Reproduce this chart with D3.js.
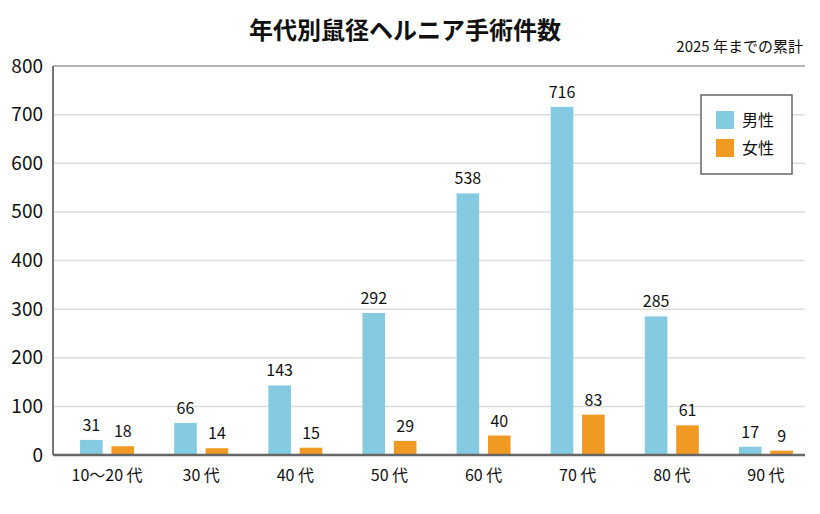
<!DOCTYPE html>
<html><head><meta charset="utf-8">
<script src="https://cdn.jsdelivr.net/npm/d3@7"></script>
<style>
body{margin:0;background:#fff;}
text{font-family:"Noto Sans CJK JP","Noto Sans",sans-serif;}
</style></head>
<body><svg id="c" width="820" height="514"></svg>
<script>
const categories = ["10〜20 代","30 代","40 代","50 代","60 代","70 代","80 代","90 代"];
const male = [31,66,143,292,538,716,285,17];
const female = [18,14,15,29,40,83,61,9];
const seriesNames = ["男性","女性"];
const yTicks = [0,100,200,300,400,500,600,700,800];
const title = "年代別鼠径ヘルニア手術件数";
const subtitle = "2025 年までの累計";

const colors = ["#84CBE1","#F09A24"];
const svg = d3.select("#c");
const plotL = 53, plotR = 805, plotT = 66, plotB = 455;

const y = d3.scaleLinear().domain([0,800]).range([plotB,plotT]);
const x = d3.scaleBand().domain(categories).range([60,813]);
const inner = d3.scaleBand().domain(seriesNames).range([-27,27]).paddingInner(0.28);

// gridlines
svg.append("g").selectAll("line").data(yTicks.filter(d=>d>0)).join("line")
  .attr("x1",plotL).attr("x2",plotR)
  .attr("y1",d=>y(d)).attr("y2",d=>y(d))
  .attr("stroke",d=>d===800?"#9a9a9a":"#dcdcdc").attr("stroke-width",1.5);

// y axis labels
const yAxis = d3.axisLeft(y).tickValues(yTicks).tickSize(0).tickPadding(10);
const ya = svg.append("g").attr("transform",`translate(${plotL},0)`).call(yAxis);
ya.select(".domain").remove();
ya.selectAll("text").attr("font-size",19).attr("fill","#111")
  .attr("font-family","'Noto Sans CJK JP',sans-serif");

// bars
const data = categories.map((c,i)=>({c, vals:[male[i],female[i]]}));
const groups = svg.append("g").selectAll("g").data(data).join("g")
  .attr("transform",d=>`translate(${x(d.c)+x.bandwidth()/2},0)`);
groups.selectAll("rect").data(d=>d.vals.map((v,j)=>({v,s:seriesNames[j],j}))).join("rect")
  .attr("x",d=>inner(d.s)).attr("width",inner.bandwidth())
  .attr("y",d=>y(d.v)).attr("height",d=>plotB-y(d.v))
  .attr("fill",d=>colors[d.j]);
groups.selectAll("text.v").data(d=>d.vals.map((v,j)=>({v,s:seriesNames[j],j}))).join("text")
  .attr("class","v")
  .attr("x",d=>inner(d.s)+inner.bandwidth()/2)
  .attr("y",d=>y(d.v)-9)
  .attr("text-anchor","middle").attr("font-size",16).attr("fill","#111")
  .text(d=>d.v);

// axes lines
svg.append("line").attr("x1",plotL).attr("x2",plotL).attr("y1",plotT).attr("y2",plotB)
  .attr("stroke","#777").attr("stroke-width",2);
svg.append("line").attr("x1",plotL).attr("x2",plotR).attr("y1",plotB).attr("y2",plotB)
  .attr("stroke","#666").attr("stroke-width",2.5);

// x labels
const xAxis = d3.axisBottom(x).tickSize(0).tickPadding(15);
const xa = svg.append("g").attr("transform",`translate(0,${plotB})`).call(xAxis);
xa.select(".domain").remove();
xa.selectAll("text").attr("font-size",16).attr("fill","#111")
  .attr("font-family","'Noto Sans CJK JP',sans-serif");

// title
svg.append("text").attr("x",405).attr("y",39).attr("text-anchor","middle")
  .attr("font-size",24).attr("font-weight","bold").attr("fill","#111").text(title);
svg.append("text").attr("x",803).attr("y",52).attr("text-anchor","end")
  .attr("font-size",15).attr("fill","#111").text(subtitle);

// legend
const lg = svg.append("g").attr("transform","translate(701,95)");
lg.append("rect").attr("width",91).attr("height",79).attr("fill","#fff")
  .attr("stroke","#666").attr("stroke-width",1.5);
seriesNames.forEach((s,i)=>{
  lg.append("rect").attr("x",15).attr("y",16+i*28).attr("width",18).attr("height",18).attr("fill",colors[i]);
  lg.append("text").attr("x",41).attr("y",31+i*28).attr("font-size",16).attr("fill","#111").text(s);
});
</script></body></html>
